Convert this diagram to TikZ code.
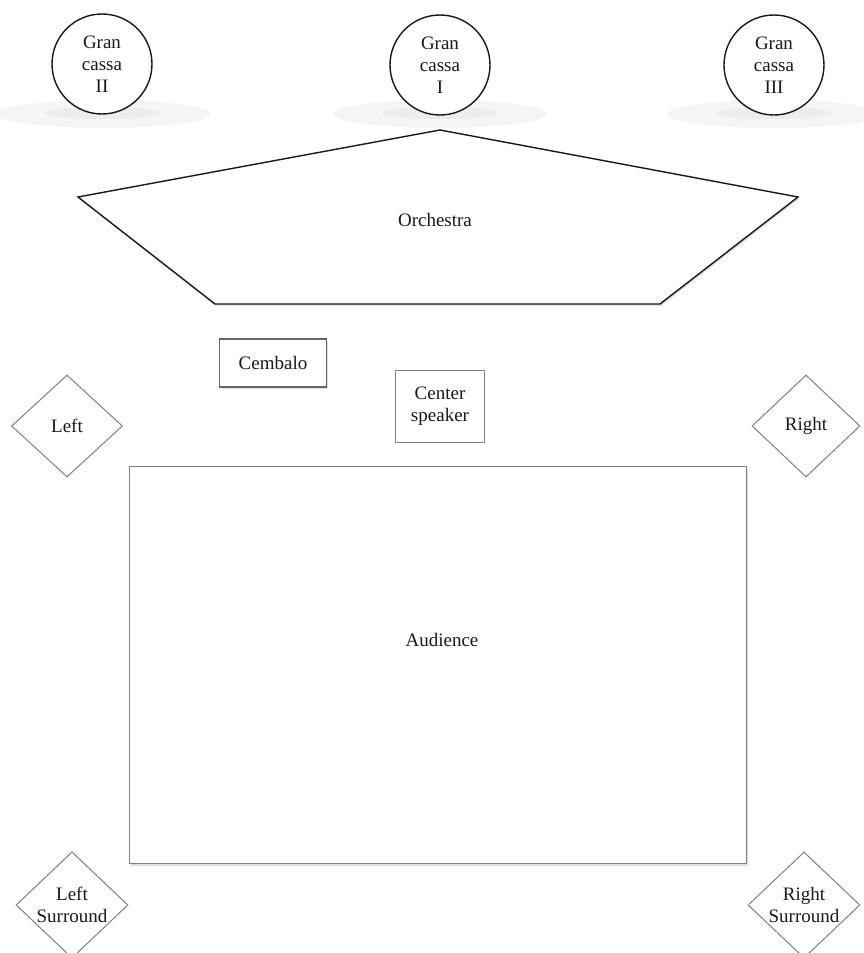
\documentclass[tikz,border=0pt]{standalone}
\usepackage{fontspec}
\setmainfont{Liberation Serif}
\usetikzlibrary{shapes.geometric,shadows}
\begin{document}
\begin{tikzpicture}[x=1pt,y=-1pt,
  every node/.style={font=\fontsize{19}{22}\selectfont, align=center, text=black!90},
  drum/.style={circle, draw=black!90, line width=1.4pt, minimum size=100pt, inner sep=0pt, fill=white},
  spk/.style={diamond, draw=black!50, line width=1pt, inner sep=0pt, fill=white},
  boxshadow/.style={drop shadow={opacity=0.25, shadow xshift=1pt, shadow yshift=-2pt}},
  floorshadow/.style={fill=black!4, draw=none},
  floorcore/.style={fill=black!7, draw=none}]
\useasboundingbox (0,0) rectangle (864,953);
% floor shadows under the drums
\foreach \cx in {103,440,774}{
  \fill[floorshadow] (\cx,114) ellipse [x radius=107pt, y radius=14pt];
  \fill[floorcore] (\cx,113) ellipse [x radius=58pt, y radius=6pt];
}
% drums
\node[drum] (g2) at (102,64) {Gran\\cassa\\II};
\node[drum] (g1) at (440,65) {Gran\\cassa\\I};
\node[drum] (g3) at (774,65) {Gran\\cassa\\III};
% orchestra
\draw[line width=1.4pt, draw=black!90, fill=white, line join=miter, boxshadow]
  (440,130) -- (798,197) -- (660,304) -- (215,304) -- (78,197) -- cycle;
\node (orch) at (435,220) {Orchestra};
% cembalo
\node[draw=black!60, line width=1.3pt, fill=white, minimum width=107pt, minimum height=48pt, inner sep=0pt, boxshadow] (cemb) at (273,363) {Cembalo};
% center speaker
\node[draw=black!50, line width=1pt, fill=white, minimum width=89pt, minimum height=72pt, inner sep=0pt] (cspk) at (440,406) {Center\\speaker};
% front speakers
\node[spk, minimum width=111pt, minimum height=102pt] (left) at (67,426) {Left};
\node[spk, minimum width=108pt, minimum height=102pt] (right) at (806,426) {Right};
% audience
\node[draw=black!50, line width=1.2pt, fill=white, minimum width=617pt, minimum height=397pt, inner sep=0pt, boxshadow] (aud) at (438,665) {};
\node (audl) at (442,640) {Audience};
% surround speakers
\node[spk, minimum width=112pt, minimum height=104pt] (ls) at (72,905) {Left\\Surround};
\node[spk, minimum width=112pt, minimum height=104pt] (rs) at (804,905) {Right\\Surround};
\end{tikzpicture}
\end{document}
